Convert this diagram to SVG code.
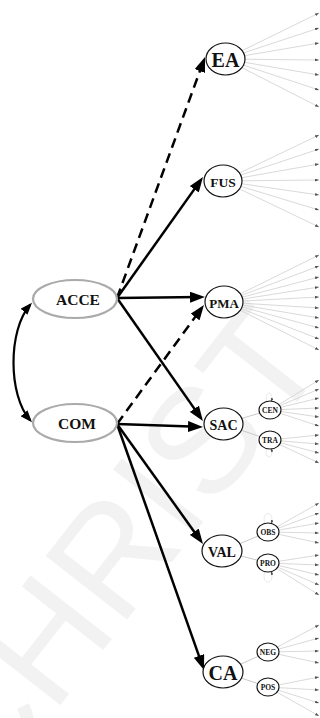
<svg xmlns="http://www.w3.org/2000/svg" width="320" height="718" viewBox="0 0 320 718">
  <style>
    .wm { font-family: "Liberation Sans", Arial, sans-serif; font-size: 150px; fill: #f2f2f2; }
    .lbl { font-family: "Liberation Serif", "Times New Roman", serif; font-weight: bold; fill: #111; text-anchor: middle; dominant-baseline: central; }
    .node { fill: #fff; stroke: #111; stroke-width: 1.2; }
    .latent { fill: #fff; stroke: #aaa; stroke-width: 2.2; }
    .sub { fill: #fff; stroke: #111; stroke-width: 1.1; }
    .path { fill: none; stroke: #000; stroke-width: 2.5; marker-end: url(#big); }
    .dash { stroke-dasharray: 10 6; }
    .ind line { stroke: #cfcfcf; stroke-width: 0.8; marker-end: url(#tiny); }
    .link { fill: none; stroke: #c8c8c8; stroke-width: 1; }
    .loop { fill: none; stroke: #e0e0e0; stroke-width: 0.7; marker-end: url(#tiny); }
  </style>
  <defs>
    <marker id="big" markerUnits="userSpaceOnUse" markerWidth="15" markerHeight="11" refX="10" refY="5.5" orient="auto">
      <path d="M0,0 L15,5.5 L0,11 z" fill="#000"/>
    </marker>
    <marker id="cov" markerUnits="userSpaceOnUse" markerWidth="12" markerHeight="9" refX="9" refY="4.5" orient="auto-start-reverse">
      <path d="M0,0 L12,4.5 L0,9 z" fill="#000"/>
    </marker>
    <marker id="tiny" markerUnits="userSpaceOnUse" markerWidth="4" markerHeight="3" refX="4" refY="1.5" orient="auto">
      <path d="M0,0 L4,1.5 L0,3 z" fill="#555"/>
    </marker>
  </defs>

  <rect width="320" height="718" fill="#fff"/>

  <!-- background watermark -->
  <text class="wm" transform="translate(-14,800) rotate(-52)">CHRIST</text>

  <!-- indicator lines (drawn under the node ellipses) -->
  <g id="indicators" class="ind">
    <!-- EA -->
    <line x1="225" y1="59" x2="319" y2="13"/>
    <line x1="225" y1="59" x2="319" y2="28"/>
    <line x1="225" y1="59" x2="319" y2="43"/>
    <line x1="225" y1="59" x2="319" y2="60"/>
    <line x1="225" y1="59" x2="319" y2="75"/>
    <line x1="225" y1="59" x2="319" y2="90"/>
    <line x1="225" y1="59" x2="319" y2="107"/>
    <!-- FUS -->
    <line x1="223" y1="181" x2="319" y2="135"/>
    <line x1="223" y1="181" x2="319" y2="149"/>
    <line x1="223" y1="181" x2="319" y2="164"/>
    <line x1="223" y1="181" x2="319" y2="180"/>
    <line x1="223" y1="181" x2="319" y2="195"/>
    <line x1="223" y1="181" x2="319" y2="210"/>
    <line x1="223" y1="181" x2="319" y2="227"/>
    <!-- PMA -->
    <line x1="224" y1="302" x2="319" y2="255"/>
    <line x1="224" y1="302" x2="319" y2="266"/>
    <line x1="224" y1="302" x2="319" y2="277"/>
    <line x1="224" y1="302" x2="319" y2="287"/>
    <line x1="224" y1="302" x2="319" y2="297"/>
    <line x1="224" y1="302" x2="319" y2="308"/>
    <line x1="224" y1="302" x2="319" y2="318"/>
    <line x1="224" y1="302" x2="319" y2="328"/>
    <line x1="224" y1="302" x2="319" y2="339"/>
    <line x1="224" y1="302" x2="319" y2="350"/>
    <!-- CEN -->
    <line x1="270" y1="410" x2="319" y2="380"/>
    <line x1="270" y1="410" x2="319" y2="389"/>
    <line x1="270" y1="410" x2="319" y2="398"/>
    <line x1="270" y1="410" x2="319" y2="408"/>
    <line x1="270" y1="410" x2="319" y2="417"/>
    <line x1="270" y1="410" x2="319" y2="426"/>
    <!-- TRA -->
    <line x1="270" y1="440" x2="319" y2="435"/>
    <line x1="270" y1="440" x2="319" y2="444"/>
    <line x1="270" y1="440" x2="319" y2="453"/>
    <line x1="270" y1="440" x2="319" y2="463"/>
    <!-- OBS -->
    <line x1="268" y1="532" x2="319" y2="503"/>
    <line x1="268" y1="532" x2="319" y2="513"/>
    <line x1="268" y1="532" x2="319" y2="523"/>
    <line x1="268" y1="532" x2="319" y2="533"/>
    <line x1="268" y1="532" x2="319" y2="543"/>
    <!-- PRO -->
    <line x1="268" y1="563" x2="319" y2="555"/>
    <line x1="268" y1="563" x2="319" y2="565"/>
    <line x1="268" y1="563" x2="319" y2="575"/>
    <line x1="268" y1="563" x2="319" y2="585"/>
    <line x1="268" y1="563" x2="319" y2="595"/>
    <!-- NEG -->
    <line x1="268" y1="652" x2="319" y2="625"/>
    <line x1="268" y1="652" x2="319" y2="638"/>
    <line x1="268" y1="652" x2="319" y2="651"/>
    <line x1="268" y1="652" x2="319" y2="663"/>
    <!-- POS -->
    <line x1="268" y1="687" x2="319" y2="677"/>
    <line x1="268" y1="687" x2="319" y2="690"/>
    <line x1="268" y1="687" x2="319" y2="703"/>
    <line x1="268" y1="687" x2="319" y2="716"/>
  </g>

  <!-- links from second-order factors to their dimensions, and residual loops -->
  <g id="links">
    <path class="link" d="M223,424 L270,410 M223,424 L270,440 M222,551 L268,532 M222,551 L268,563 M223,672 L268,652 M223,672 L268,687"/>
    <path class="loop" d="M267,402 C263,390 275,390 271,402"/>
    <path class="loop" d="M267,448 C263,460 275,460 271,448"/>
    <path class="loop" d="M265,524 C260,510 276,510 271,524"/>
    <path class="loop" d="M265,571 C260,586 276,586 271,571"/>
  </g>

  <!-- structural paths -->
  <g id="connectors">
    <path class="path dash" d="M117,298 L203.3,61.7"/>
    <path class="path" d="M117,298 L200.1,181.1"/>
    <path class="path" d="M117,298 L200,297.1"/>
    <path class="path" d="M117,298 L200.1,416.9"/>
    <path class="path dash" d="M117,424 L201,309"/>
    <path class="path" d="M117,424 L198,426.8"/>
    <path class="path" d="M117,424 L200.1,539.9"/>
    <path class="path" d="M117,424 L202.3,665.3"/>
    <!-- covariance between ACCE and COM -->
    <path d="M30,305 C8,330 8,395 30,420" fill="none" stroke="#000" stroke-width="2.2" marker-start="url(#cov)" marker-end="url(#cov)"/>
  </g>

  <!-- exogenous factors -->
  <g id="ACCE">
    <ellipse class="latent" cx="75" cy="299" rx="42" ry="19"/>
    <text class="lbl" x="78" y="299" font-size="15.5">ACCE</text>
  </g>
  <g id="COM">
    <ellipse class="latent" cx="75" cy="423" rx="42" ry="19"/>
    <text class="lbl" x="77" y="423" font-size="15.5">COM</text>
  </g>

  <!-- outcome factors -->
  <g id="EA">
    <ellipse class="node" cx="225.5" cy="59" rx="19.5" ry="16"/>
    <text class="lbl" x="225.5" y="60" font-size="20">EA</text>
  </g>
  <g id="FUS">
    <ellipse class="node" cx="223" cy="181" rx="19" ry="16"/>
    <text class="lbl" x="223" y="182" font-size="13.5">FUS</text>
  </g>
  <g id="PMA">
    <ellipse class="node" cx="224" cy="302" rx="19" ry="16"/>
    <text class="lbl" x="224" y="303" font-size="13">PMA</text>
  </g>
  <g id="SAC">
    <ellipse class="node" cx="223.5" cy="424" rx="19.5" ry="16"/>
    <text class="lbl" x="223.5" y="425" font-size="14">SAC</text>
  </g>
  <g id="VAL">
    <ellipse class="node" cx="222" cy="551" rx="20" ry="16"/>
    <text class="lbl" x="222" y="552" font-size="14">VAL</text>
  </g>
  <g id="CA">
    <ellipse class="node" cx="223" cy="672" rx="20" ry="16"/>
    <text class="lbl" x="223" y="673" font-size="20">CA</text>
  </g>

  <!-- first-order dimensions -->
  <g id="CEN">
    <ellipse class="sub" cx="270" cy="410" rx="11" ry="9"/>
    <text class="lbl" x="270" y="410.5" font-size="7.5">CEN</text>
  </g>
  <g id="TRA">
    <ellipse class="sub" cx="270" cy="440" rx="11" ry="9"/>
    <text class="lbl" x="270" y="440.5" font-size="7.5">TRA</text>
  </g>
  <g id="OBS">
    <ellipse class="sub" cx="268" cy="532" rx="11" ry="9"/>
    <text class="lbl" x="268" y="532.5" font-size="7.5">OBS</text>
  </g>
  <g id="PRO">
    <ellipse class="sub" cx="268" cy="563" rx="11" ry="9"/>
    <text class="lbl" x="268" y="563.5" font-size="7.5">PRO</text>
  </g>
  <g id="NEG">
    <ellipse class="sub" cx="268" cy="652" rx="11" ry="9"/>
    <text class="lbl" x="268" y="652.5" font-size="7.5">NEG</text>
  </g>
  <g id="POS">
    <ellipse class="sub" cx="268" cy="687" rx="11" ry="9"/>
    <text class="lbl" x="268" y="687.5" font-size="7.5">POS</text>
  </g>
</svg>
